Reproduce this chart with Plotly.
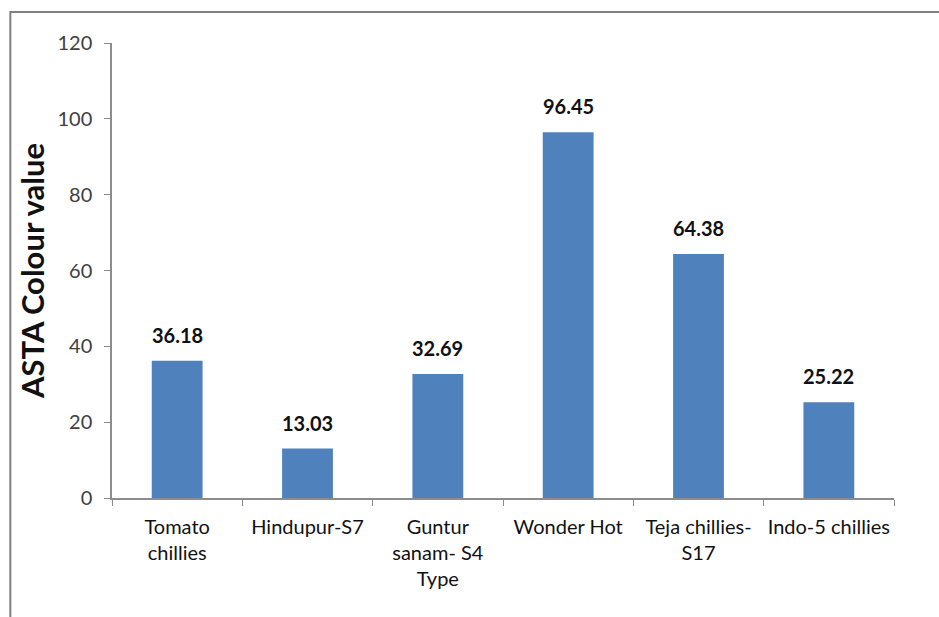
import plotly.graph_objects as go

categories = ["Tomato<br>chillies", "Hindupur-S7", "Guntur<br>sanam- S4<br>Type",
              "Wonder Hot", "Teja chillies-<br>S17", "Indo-5 chillies"]
values = [36.18, 13.03, 32.69, 96.45, 64.38, 25.22]
y_ticks = [0, 20, 40, 60, 80, 100, 120]

fig = go.Figure()
fig.add_trace(go.Bar(x=categories, y=values, marker_color="#4F81BD",
                     marker_line_width=0, showlegend=False))

for c, v in zip(categories, values):
    fig.add_annotation(x=c, y=v, text=f"<b>{v:.2f}</b>", showarrow=False,
                       yanchor="bottom", yshift=12,
                       font=dict(family="Lato", size=20, color="#111111"))

fig.add_shape(type="rect", xref="paper", yref="paper",
              x0=-0.130, x1=1.3, y0=-0.6, y1=1.068,
              line=dict(color="#808080", width=2), fillcolor="rgba(0,0,0,0)")

fig.update_layout(
    width=939, height=617,
    margin=dict(l=112, r=45, t=43, b=119),
    plot_bgcolor="white", paper_bgcolor="white",
    bargap=0.61,
    font=dict(family="Lato", color="#262626"),
)
fig.update_xaxes(showline=True, linecolor="#8c8c8c", linewidth=1.5,
                 ticks="outside", tickson="boundaries", ticklen=6, tickcolor="#8c8c8c",
                 ticklabelstandoff=10, tickangle=0, automargin=False,
                 tickfont=dict(family="Lato", size=20, color="#111111"),
                 showgrid=False)
fig.update_yaxes(range=[0, 120], tickvals=y_ticks, showline=True, linecolor="#8c8c8c",
                 linewidth=1.5, ticks="outside", ticklen=6, tickcolor="#8c8c8c",
                 ticklabelstandoff=8, automargin=False,
                 tickfont=dict(family="Lato", size=20, color="#404040"),
                 showgrid=False, zeroline=False,
                 title=dict(text="<b>ASTA Colour value</b>", standoff=4,
                            font=dict(family="Lato", size=31, color="#111111")))

fig.write_html("out.html")
